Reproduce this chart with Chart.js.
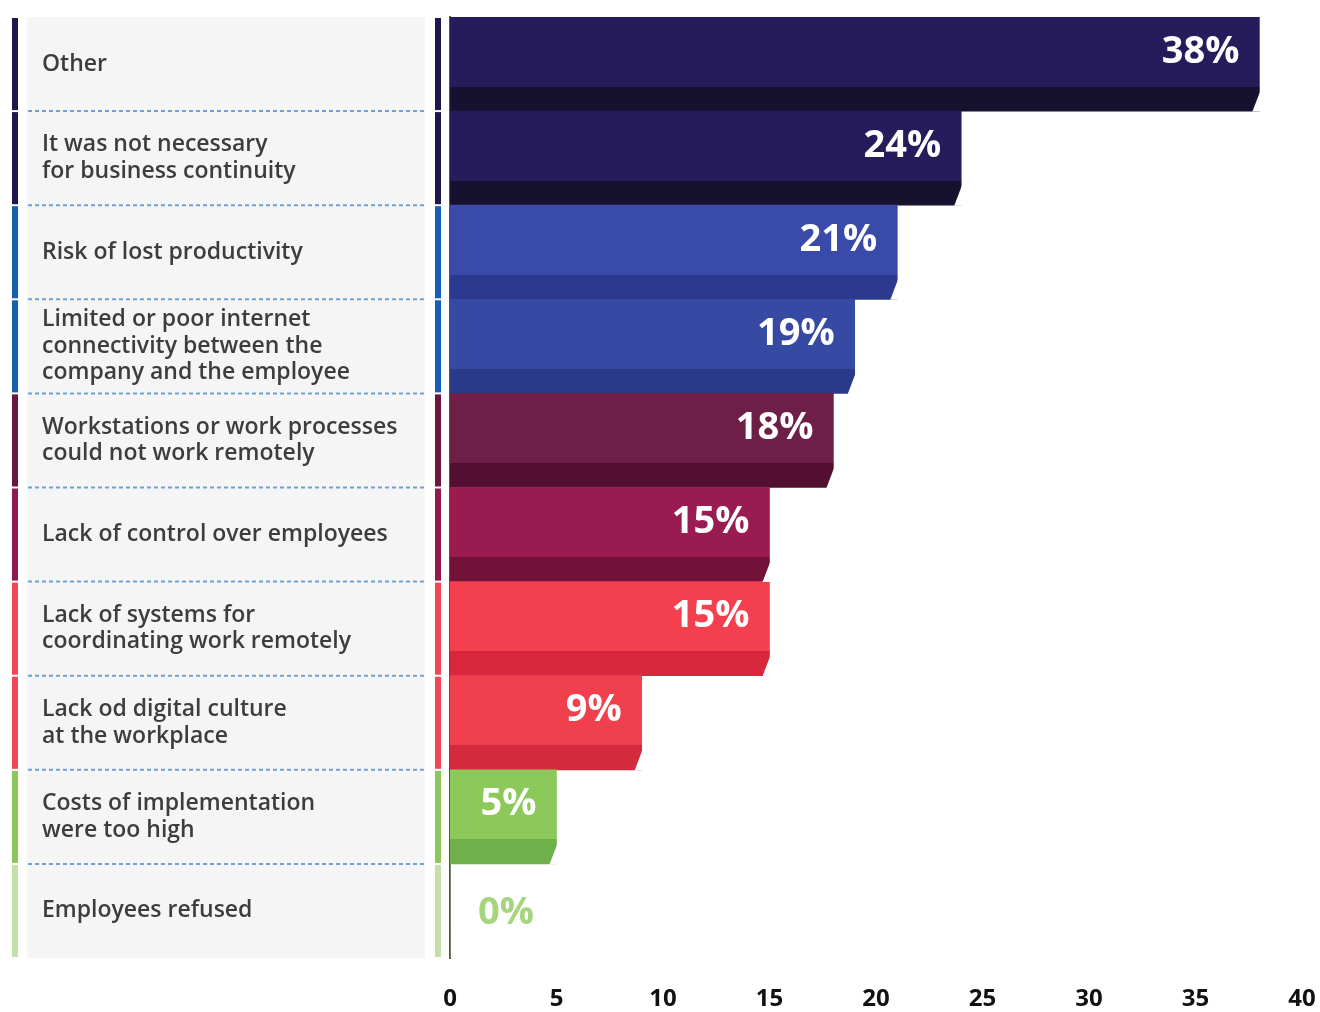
<!DOCTYPE html>
<html>
<head>
<meta charset="utf-8">
<script src="https://cdn.jsdelivr.net/npm/chart.js@4"></script>
<style>
  html, body { margin: 0; padding: 0; background: #fff; }
  #wrap { width: 1320px; height: 1012px; position: relative; }
</style>
</head>
<body>
<div id="wrap"><canvas id="grafico"></canvas></div>
<script>
// datos
const categorias = [
  "Other",
  ["It was not necessary", "for business continuity"],
  "Risk of lost productivity",
  ["Limited or poor internet", "connectivity between the", "company and the employee"],
  ["Workstations or work processes", "could not work remotely"],
  "Lack of control over employees",
  ["Lack of systems for", "coordinating work remotely"],
  ["Lack od digital culture", "at the workplace"],
  ["Costs of implementation", "were too high"],
  "Employees refused"
];
const valores = [38, 24, 21, 19, 18, 15, 15, 9, 5, 0];
const ticksX = [0, 5, 10, 15, 20, 25, 30, 35, 40];

// colores: cara superior, franja inferior, franja lateral
const coloresArriba = ["#261c5c", "#261c5c", "#3a4aa8", "#3649a3", "#6e1f48", "#9a1b50", "#f33f4e", "#f0404e", "#8cc95a", "#b8dc9a"];
const coloresAbajo  = ["#16112f", "#16112f", "#2b3a8f", "#2a3a8a", "#520f32", "#721238", "#d8263c", "#d42a3e", "#70b04a", "#a6cf83"];
const coloresFranja = ["#1f1650", "#1f1650", "#1560b0", "#1560b0", "#6b1640", "#8e1a50", "#f0475a", "#f0475a", "#8cc55a", "#c2e0a8"];

const CORTE = 0.74; // donde empieza la franja oscura de cada barra

function colorBarra(ctx) {
  const chart = ctx.chart;
  const area = chart.chartArea;
  const i = ctx.dataIndex;
  if (!area || !chart.scales.y) return coloresArriba[i];
  const centro = chart.scales.y.getPixelForValue(i);
  const alto = (area.bottom - area.top) / categorias.length;
  const g = chart.ctx.createLinearGradient(0, centro - alto / 2, 0, centro + alto / 2);
  g.addColorStop(0, coloresArriba[i]);
  g.addColorStop(CORTE, coloresArriba[i]);
  g.addColorStop(CORTE, coloresAbajo[i]);
  g.addColorStop(1, coloresAbajo[i]);
  return g;
}

// panel gris de la izquierda con franjas y separadores
const panelIzquierdo = {
  id: "panelIzquierdo",
  beforeDraw(chart) {
    const { ctx, chartArea } = chart;
    const y = chart.scales.y;
    const alto = (chartArea.bottom - chartArea.top) / categorias.length;
    ctx.save();
    ctx.fillStyle = "#f5f5f5";
    ctx.fillRect(27, chartArea.top, 398, chartArea.bottom - chartArea.top);
    categorias.forEach((_, i) => {
      const arriba = y.getPixelForValue(i) - alto / 2;
      ctx.fillStyle = coloresFranja[i];
      ctx.fillRect(12, arriba + 1, 6, alto - 2);
      ctx.fillRect(435, arriba + 1, 6, alto - 2);
      if (i > 0) {
        ctx.strokeStyle = "#6f9fd6";
        ctx.lineWidth = 2;
        ctx.setLineDash([4, 3]);
        ctx.beginPath();
        ctx.moveTo(28, arriba);
        ctx.lineTo(425, arriba);
        ctx.stroke();
      }
    });
    ctx.restore();
  }
};

// bisel de la franja oscura y etiquetas de porcentaje
const etiquetasValor = {
  id: "etiquetasValor",
  afterDatasetsDraw(chart) {
    const { ctx } = chart;
    const meta = chart.getDatasetMeta(0);
    ctx.save();
    meta.data.forEach((bar, i) => {
      if (valores[i] === 0) return;
      const abajo = bar.y + bar.height / 2;
      const inicio = bar.y - bar.height / 2 + bar.height * CORTE;
      ctx.fillStyle = "#ffffff";
      ctx.beginPath();
      ctx.moveTo(bar.x + 1, inicio + 4);
      ctx.lineTo(bar.x + 1, abajo + 0.5);
      ctx.lineTo(bar.x - 7, abajo + 0.5);
      ctx.closePath();
      ctx.fill();
    });
    ctx.font = "bold 38px 'Open Sans'";
    ctx.textBaseline = "middle";
    meta.data.forEach((bar, i) => {
      const yTexto = bar.y - bar.height * 0.13;
      if (valores[i] === 0) {
        ctx.fillStyle = "#a8d47f";
        ctx.textAlign = "left";
        ctx.fillText(valores[i] + "%", bar.x + 28, yTexto + 14);
      } else {
        ctx.fillStyle = "#ffffff";
        ctx.textAlign = "right";
        ctx.fillText(valores[i] + "%", bar.x - 20, yTexto);
      }
    });
    ctx.restore();
  }
};

new Chart(document.getElementById("grafico"), {
  type: "bar",
  data: {
    labels: categorias,
    datasets: [{
      data: valores,
      backgroundColor: colorBarra,
      borderWidth: 0,
      barPercentage: 1,
      categoryPercentage: 1
    }]
  },
  options: {
    indexAxis: "y",
    responsive: true,
    maintainAspectRatio: false,
    animation: false,
    layout: { padding: { top: 17, left: 42, right: 18, bottom: 0 } },
    plugins: {
      legend: { display: false },
      tooltip: { enabled: false }
    },
    scales: {
      x: {
        min: 0,
        max: 40,
        afterBuildTicks: scale => { scale.ticks = ticksX.map(v => ({ value: v })); },
        afterFit: scale => { scale.height = 54; scale.paddingRight = 0; },
        grid: { display: false, drawTicks: false },
        border: { display: false },
        ticks: {
          padding: 27,
          maxRotation: 0,
          color: "#111",
          font: { family: "'Open Sans'", size: 24, weight: "bold" }
        }
      },
      y: {
        afterFit: scale => { scale.width = 408; },
        grid: { display: false, drawTicks: false },
        border: { display: true, color: "#555", width: 2 },
        ticks: {
          crossAlign: "far",
          padding: 0,
          color: "#3d3d3d",
          font: { family: "'Open Sans'", size: 23, weight: "600", lineHeight: 1.15 }
        }
      }
    }
  },
  plugins: [panelIzquierdo, etiquetasValor]
});
</script>
</body>
</html>
